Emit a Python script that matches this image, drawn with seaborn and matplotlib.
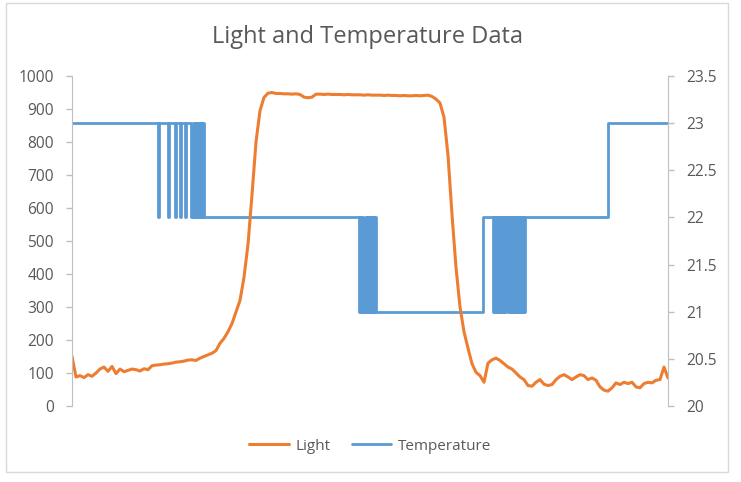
import numpy as np
import pandas as pd
import seaborn as sns
import matplotlib.pyplot as plt
from matplotlib.patches import Rectangle
from matplotlib.lines import Line2D

# Light sensor readings, one every 4 samples
light = [150, 88, 92, 86, 95, 90, 100, 112, 118, 105,
         120, 98, 112, 104, 108, 112, 110, 106, 113, 110,
         122, 124, 125, 127, 128, 130, 133, 134, 136, 139,
         140, 138, 145, 150, 155, 160, 168, 190, 205, 225,
         250, 285, 320, 390, 490, 640, 800, 895, 935, 948,
         950, 947, 947, 946, 946, 945, 946, 944, 936, 934,
         936, 945, 945, 944, 945, 944, 944, 944, 943, 944,
         943, 943, 943, 942, 943, 942, 942, 942, 941, 942,
         941, 941, 940, 941, 940, 940, 941, 940, 941, 942,
         938, 930, 918, 875, 760, 580, 420, 300, 225, 175,
         128, 102, 92, 72, 130, 140, 145, 138, 128, 118,
         112, 100, 88, 80, 62, 60, 72, 80, 66, 62,
         65, 80, 90, 95, 88, 80, 88, 95, 92, 80,
         85, 78, 58, 48, 45, 55, 70, 65, 72, 68,
         72, 58, 55, 68, 72, 70, 78, 80, 118, 85]
light_step = 4

# Temperature: sample at which the reading changes, and the new reading
temp_time = [0, 86, 87, 96, 97, 103, 104, 108, 109, 113, 114, 119,
             121, 122, 123, 124, 125, 126, 127, 128, 129, 130, 131, 132, 133,
             287, 288, 289, 290, 291,
             293, 294, 295, 296, 297, 298, 299, 300, 301, 302, 303, 304,
             411,
             421, 422, 423, 424, 425, 426, 427, 428, 429, 430, 431, 432, 433, 434,
             436, 437, 438, 439, 440, 441, 442, 443, 444, 445, 446, 447, 448,
             449, 450, 451, 452, 453,
             536, 596]
temp_value = [23, 22, 23, 22, 23, 22, 23, 22, 23, 22, 23, 22,
              23, 22, 23, 22, 23, 22, 23, 22, 23, 22, 23, 22, 22,
              21, 22, 21, 22, 21,
              22, 21, 22, 21, 22, 21, 22, 21, 22, 21, 22, 21,
              22,
              21, 22, 21, 22, 21, 22, 21, 22, 21, 22, 21, 22, 21, 22,
              21, 22, 21, 22, 21, 22, 21, 22, 21, 22, 21, 22, 21,
              22, 21, 22, 21, 22,
              23, 23]

light_df = pd.DataFrame({'sample': np.arange(len(light)) * light_step, 'Light': light})
temp_df = pd.DataFrame({'sample': temp_time, 'Temperature': temp_value})

sns.set_style('white')
plt.rcParams['font.family'] = ['Open Sans', 'DejaVu Sans']

text_col = '#595959'
axis_col = '#BFBFBF'
orange = '#ED7D31'
blue = '#5B9BD5'

fig = plt.figure(figsize=(7.41, 4.82), dpi=100)
ax = fig.add_axes([72 / 741, 1 - 406 / 482, (668 - 72) / 741, (406 - 76) / 482])
ax2 = ax.twinx()

sns.lineplot(data=light_df, x='sample', y='Light', ax=ax, color=orange, lw=2.2)
sns.lineplot(data=temp_df, x='sample', y='Temperature', ax=ax2, color=blue, lw=2.0,
             drawstyle='steps-post')

# light drawn above temperature
ax.set_zorder(ax2.get_zorder() + 1)
ax.patch.set_visible(False)

ax.set_xlim(0, 596)
ax.set_ylim(0, 1000)
ax2.set_ylim(20, 23.5)
ax.set_yticks(range(0, 1001, 100))
ax2.set_yticks([20, 20.5, 21, 21.5, 22, 22.5, 23, 23.5])
ax2.set_yticklabels(['20', '20.5', '21', '21.5', '22', '22.5', '23', '23.5'])
ax.set_xticks([])
ax.set_xlabel('')
ax.set_ylabel('')
ax2.set_ylabel('')

for a in (ax, ax2):
    for s in a.spines.values():
        s.set_visible(False)
    a.tick_params(axis='y', colors=axis_col, labelcolor=text_col, labelsize=11.2,
                  length=4, width=1, pad=9, direction='out')
ax.spines['left'].set_visible(True)
ax.spines['left'].set_color(axis_col)
ax2.spines['right'].set_visible(True)
ax2.spines['right'].set_color(axis_col)
ax.tick_params(axis='y', left=True)
ax2.tick_params(axis='y', right=True)

fig.text(368 / 741, 1 - 37 / 482, 'Light and Temperature Data', ha='center', va='center',
         fontsize=17, color=text_col)

handles = [Line2D([], [], color=orange, lw=2.2), Line2D([], [], color=blue, lw=2.0)]
fig.legend(handles, ['Light', 'Temperature'], loc='center', bbox_to_anchor=(370 / 741, 1 - 446 / 482),
           ncol=2, frameon=False, fontsize=11, labelcolor=text_col, handlelength=2.6,
           handletextpad=0.4, columnspacing=1.4)

fig.patches.append(Rectangle((6 / 741, 1 - 472 / 482), 722 / 741, 469 / 482,
                             transform=fig.transFigure, fill=False, edgecolor='#D9D9D9', lw=1))

fig.savefig('out.png', dpi=100)
